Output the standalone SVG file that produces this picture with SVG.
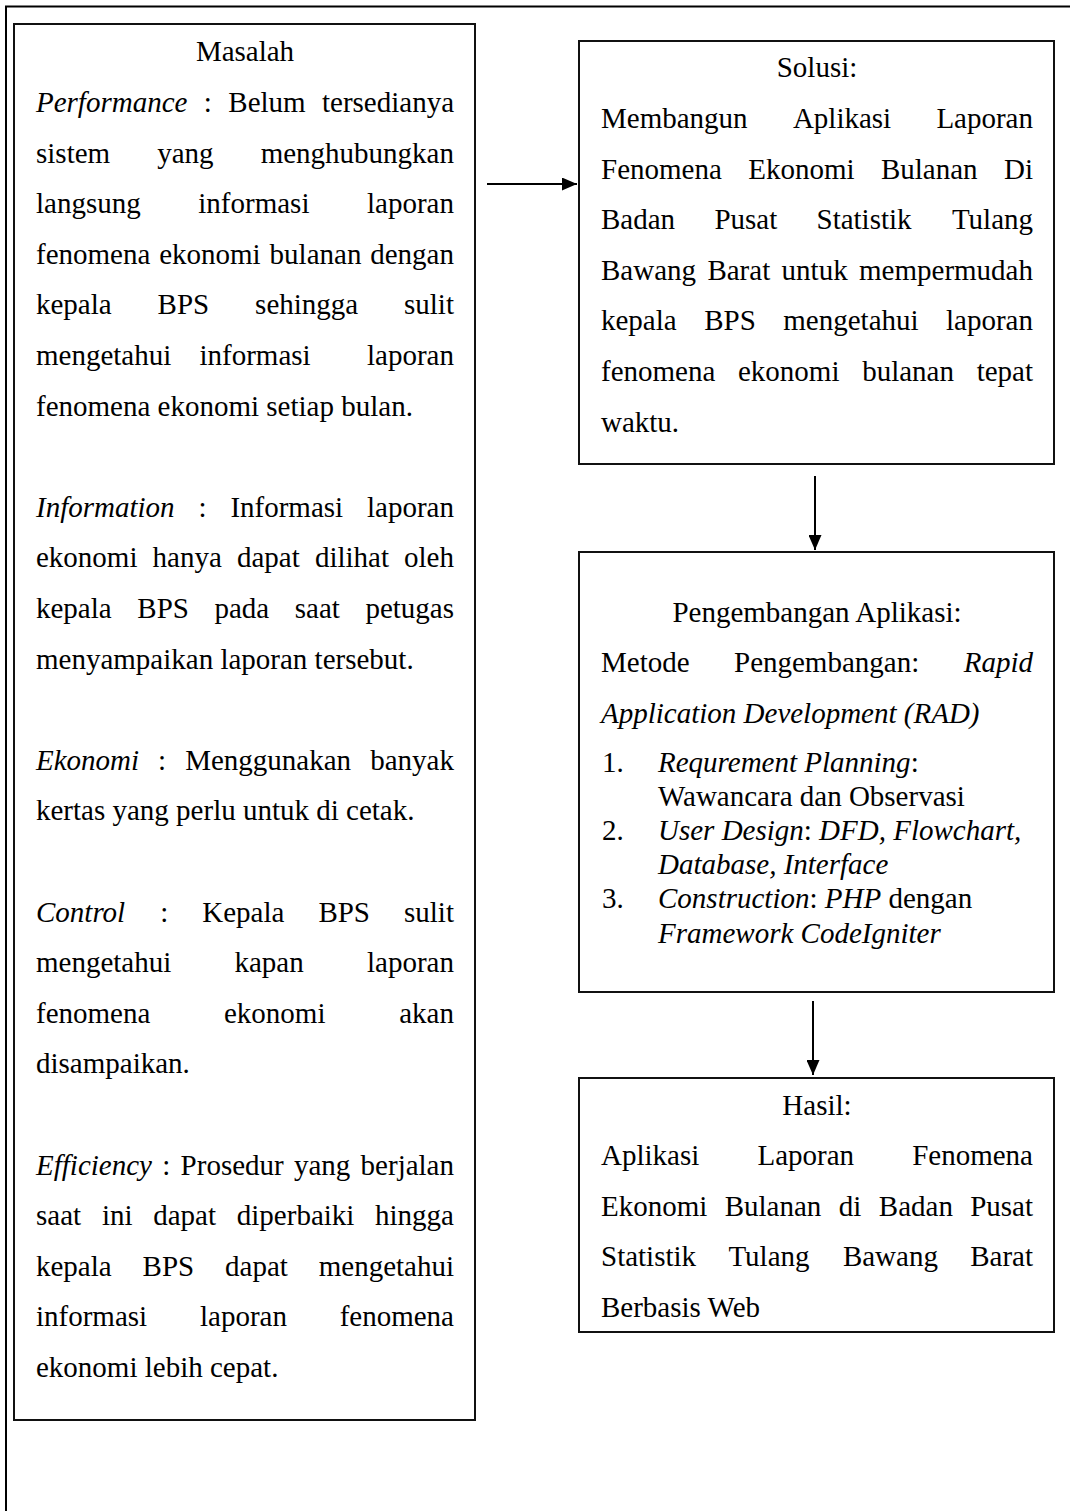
<svg xmlns="http://www.w3.org/2000/svg" width="1070" height="1511" viewBox="0 0 1070 1511">
<defs>
<style>
text { font-family: "Liberation Serif", "Times New Roman", serif; font-size: 29px; fill: #000; }
.i { font-style: italic; }
.c { text-anchor: middle; }
.e { text-anchor: end; }
.box { fill: #fff; stroke: #111; stroke-width: 2; }
.frame { fill: none; stroke: #000; stroke-width: 2; }
.conn { stroke: #000; stroke-width: 2; fill: none; }
</style>
<marker id="ah" viewBox="0 0 15 13" refX="15" refY="6.5" markerWidth="15" markerHeight="13" markerUnits="userSpaceOnUse" orient="auto">
<path d="M0,0 L15,6.5 L0,13 z" fill="#000"/>
</marker>
</defs>
<rect width="1070" height="1511" fill="#fff"/>
<g id="frame">
<path class="frame" d="M6,1511 V6.5 H1070"/>
</g>
<g id="masalah">
<rect class="box" x="14" y="24" width="461" height="1396"/>
<text class="c" x="245" y="61">Masalah</text>
<text y="112"><tspan class="i" x="36">Performance</tspan><tspan x="203.8">:</tspan><tspan x="228.3">Belum</tspan></text><text class="e" x="454" y="112">tersedianya</text>
<text y="162.6"><tspan x="36">sistem</tspan><tspan x="157.2">yang</tspan></text><text class="e" x="454" y="162.6">menghubungkan</text>
<text y="213.2"><tspan x="36">langsung</tspan><tspan x="198.3">informasi</tspan></text><text class="e" x="454" y="213.2">laporan</text>
<text y="263.8"><tspan x="36">fenomena</tspan><tspan x="159.2">ekonomi</tspan><tspan x="269.6">bulanan</tspan></text><text class="e" x="454" y="263.8">dengan</text>
<text y="314.4"><tspan x="36">kepala</tspan><tspan x="157.6">BPS</tspan><tspan x="255.1">sehingga</tspan></text><text class="e" x="454" y="314.4">sulit</text>
<text y="365"><tspan x="36">mengetahui</tspan><tspan x="199.5">informasi</tspan></text><text class="e" x="454" y="365">laporan</text>
<text x="36" y="415.6">fenomena ekonomi setiap bulan.</text>
<text y="516.8"><tspan class="i" x="36">Information</tspan><tspan x="198.5">:</tspan><tspan x="230.4">Informasi</tspan></text><text class="e" x="454" y="516.8">laporan</text>
<text y="567.4"><tspan x="36">ekonomi</tspan><tspan x="152.6">hanya</tspan><tspan x="237">dapat</tspan><tspan x="314.9">dilihat</tspan></text><text class="e" x="454" y="567.4">oleh</text>
<text y="618"><tspan x="36">kepala</tspan><tspan x="137.3">BPS</tspan><tspan x="214.4">pada</tspan><tspan x="294.8">saat</tspan></text><text class="e" x="454" y="618">petugas</text>
<text x="36" y="668.6">menyampaikan laporan tersebut.</text>
<text y="769.8"><tspan class="i" x="36">Ekonomi</tspan><tspan x="158.1">:</tspan><tspan x="185.2">Menggunakan</tspan></text><text class="e" x="454" y="769.8">banyak</text>
<text x="36" y="820.4">kertas yang perlu untuk di cetak.</text>
<text y="921.6"><tspan class="i" x="36">Control</tspan><tspan x="160.2">:</tspan><tspan x="202.3">Kepala</tspan><tspan x="318.4">BPS</tspan></text><text class="e" x="454" y="921.6">sulit</text>
<text y="972.2"><tspan x="36">mengetahui</tspan><tspan x="234.5">kapan</tspan></text><text class="e" x="454" y="972.2">laporan</text>
<text y="1022.8"><tspan x="36">fenomena</tspan><tspan x="224">ekonomi</tspan></text><text class="e" x="454" y="1022.8">akan</text>
<text x="36" y="1073.4">disampaikan.</text>
<text y="1174.6"><tspan class="i" x="36">Efficiency</tspan><tspan x="162.3">:</tspan><tspan x="180.6">Prosedur</tspan><tspan x="294">yang</tspan></text><text class="e" x="454" y="1174.6">berjalan</text>
<text y="1225.2"><tspan x="36">saat</tspan><tspan x="101.9">ini</tspan><tspan x="153.2">dapat</tspan><tspan x="236.8">diperbaiki</tspan></text><text class="e" x="454" y="1225.2">hingga</text>
<text y="1275.8"><tspan x="36">kepala</tspan><tspan x="142.6">BPS</tspan><tspan x="225.1">dapat</tspan></text><text class="e" x="454" y="1275.8">mengetahui</text>
<text y="1326.4"><tspan x="36">informasi</tspan><tspan x="200">laporan</tspan></text><text class="e" x="454" y="1326.4">fenomena</text>
<text x="36" y="1377">ekonomi lebih cepat.</text>
</g>
<g id="solusi">
<rect class="box" x="579" y="41" width="475" height="423"/>
<text class="c" x="817" y="77">Solusi:</text>
<text y="128"><tspan x="601">Membangun</tspan><tspan x="792.9">Aplikasi</tspan></text><text class="e" x="1033" y="128">Laporan</text>
<text y="178.6"><tspan x="601">Fenomena</tspan><tspan x="748.2">Ekonomi</tspan><tspan x="880.9">Bulanan</tspan></text><text class="e" x="1033" y="178.6">Di</text>
<text y="229.2"><tspan x="601">Badan</tspan><tspan x="714.4">Pusat</tspan><tspan x="816.5">Statistik</tspan></text><text class="e" x="1033" y="229.2">Tulang</text>
<text y="279.8"><tspan x="601">Bawang</tspan><tspan x="707.4">Barat</tspan><tspan x="781.6">untuk</tspan></text><text class="e" x="1033" y="279.8">mempermudah</text>
<text y="330.4"><tspan x="601">kepala</tspan><tspan x="704.2">BPS</tspan><tspan x="783.3">mengetahui</tspan></text><text class="e" x="1033" y="330.4">laporan</text>
<text y="381"><tspan x="601">fenomena</tspan><tspan x="738">ekonomi</tspan><tspan x="862.2">bulanan</tspan></text><text class="e" x="1033" y="381">tepat</text>
<text x="601" y="431.6">waktu.</text>
</g>
<g id="pengembangan">
<rect class="box" x="579" y="552" width="475" height="440"/>
<text class="c" x="817" y="622">Pengembangan Aplikasi:</text>
<text y="672"><tspan x="601">Metode</tspan><tspan x="734">Pengembangan:</tspan></text><text class="e i" x="1033" y="672">Rapid</text>
<text class="i" x="601" y="723">Application Development (RAD)</text>
<text x="602" y="772">1.</text>
<text y="772"><tspan class="i" x="658">Requrement Planning</tspan><tspan>:</tspan></text>
<text x="658" y="806.1">Wawancara dan Observasi</text>
<text x="602" y="840.2">2.</text>
<text y="840.2"><tspan class="i" x="658">User Design</tspan><tspan>: </tspan><tspan class="i">DFD, Flowchart,</tspan></text>
<text class="i" x="658" y="874.3">Database, Interface</text>
<text x="602" y="908.4">3.</text>
<text y="908.4"><tspan class="i" x="658">Construction</tspan><tspan>: </tspan><tspan class="i">PHP</tspan><tspan> dengan</tspan></text>
<text class="i" x="658" y="942.5">Framework CodeIgniter</text>
</g>
<g id="hasil">
<rect class="box" x="579" y="1078" width="475" height="254"/>
<text class="c" x="817" y="1115">Hasil:</text>
<text y="1165"><tspan x="601">Aplikasi</tspan><tspan x="757.5">Laporan</tspan></text><text class="e" x="1033" y="1165">Fenomena</text>
<text y="1215.6"><tspan x="601">Ekonomi</tspan><tspan x="724.7">Bulanan</tspan><tspan x="838.8">di</tspan><tspan x="878.8">Badan</tspan></text><text class="e" x="1033" y="1215.6">Pusat</text>
<text y="1266.2"><tspan x="601">Statistik</tspan><tspan x="728.4">Tulang</tspan><tspan x="842.9">Bawang</tspan></text><text class="e" x="1033" y="1266.2">Barat</text>
<text x="601" y="1316.8">Berbasis Web</text>
</g>
<g id="connectors">
<line class="conn" x1="487" y1="184" x2="577" y2="184" marker-end="url(#ah)"/>
<line class="conn" x1="815" y1="476" x2="815" y2="550" marker-end="url(#ah)"/>
<line class="conn" x1="813" y1="1001" x2="813" y2="1075" marker-end="url(#ah)"/>
</g>
</svg>
